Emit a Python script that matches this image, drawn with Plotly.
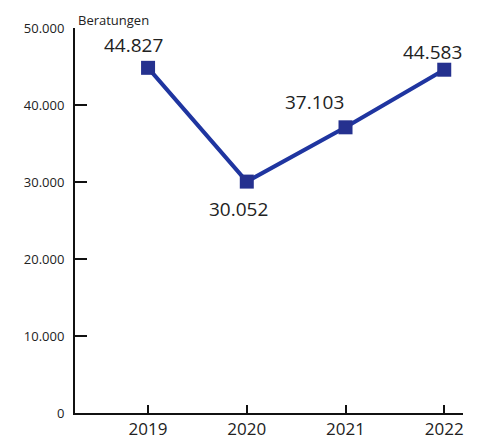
import plotly.graph_objects as go

years = [2019, 2020, 2021, 2022]
beratungen = [44827, 30052, 37103, 44583]
y_ticks = [0, 10000, 20000, 30000, 40000, 50000]
y_title = "Beratungen"

# label offsets (pixels) relative to each marker
label_dx = [-15, -8, -31, -12]
label_dy = [23, -27, 25, 18]

fig = go.Figure()
fig.add_trace(go.Scatter(
    x=years, y=beratungen, mode="lines+markers",
    line=dict(color="#1f35a0", width=4),
    marker=dict(symbol="square", size=14, color="#25318f"),
    hoverinfo="skip", showlegend=False, cliponaxis=False,
))

for x, y, dx, dy in zip(years, beratungen, label_dx, label_dy):
    fig.add_annotation(
        x=x, y=y, xref="x", yref="y",
        text=f"{y:,}".replace(",", "."),
        showarrow=False, xshift=dx, yshift=dy,
        font=dict(size=19, color="#222222"),
    )

fig.add_annotation(
    x=0.1, y=1, xref="paper", yref="paper", xanchor="center", yanchor="bottom",
    text=y_title, showarrow=False, yshift=-3,
    font=dict(size=13, color="#222222"),
)

# the page body adds an 8px offset, so the figure is sized to fit the window
fig.update_layout(
    width=470, height=432,
    margin=dict(l=67, r=15, t=20, b=27),
    plot_bgcolor="white", paper_bgcolor="white",
    font=dict(family="Open Sans", color="#222222"),
    separators=",.",
    xaxis=dict(
        range=[2018.26, 2022.19], tickvals=years,
        ticktext=[str(y) for y in years],
        showgrid=False, zeroline=False, automargin=False,
        showline=True, linecolor="#111111", linewidth=2,
        ticks="inside", ticklen=8, tickwidth=2, tickcolor="#111111",
        tickfont=dict(size=17, color="#222222"),
        ticklabelstandoff=0,
    ),
    yaxis=dict(
        range=[0, 50000], tickvals=y_ticks, tickformat=",d",
        showgrid=False, zeroline=False, automargin=False,
        showline=True, linecolor="#111111", linewidth=2,
        ticks="inside", ticklen=12, tickwidth=2, tickcolor="#111111",
        tickfont=dict(size=13, color="#222222"),
        ticklabelstandoff=6,
    ),
)

fig.write_html("out.html")
